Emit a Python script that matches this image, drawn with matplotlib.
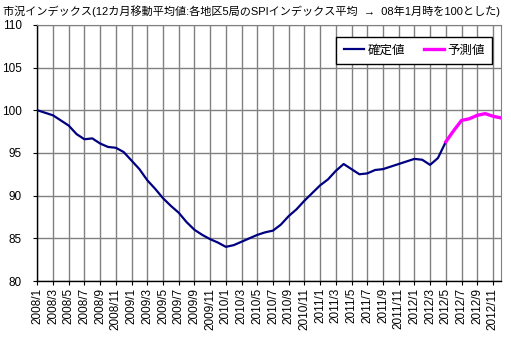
import numpy as np
import matplotlib.pyplot as plt

plt.rcParams['font.family'] = ['Liberation Sans', 'Noto Sans CJK JP', 'DejaVu Sans']

###########################################################

title = "市況インデックス(12カ月移動平均値:各地区5局のSPIインデックス平均  →  08年1月時を100とした)"
months = ["%d/%d" % (y, m) for y in range(2008, 2013) for m in range(1, 13)]

# 確定値 : 2008/1 - 2012/5
actual = [100.0, 99.7, 99.4, 98.8, 98.2, 97.2, 96.6, 96.7, 96.1, 95.7,
          95.6, 95.1, 94.1, 93.1, 91.8, 90.8, 89.7, 88.8, 88.0, 86.9,
          86.0, 85.4, 84.9, 84.5, 84.0, 84.2, 84.6, 85.0, 85.4, 85.7,
          85.9, 86.6, 87.6, 88.4, 89.4, 90.3, 91.2, 91.9, 92.9, 93.7,
          93.1, 92.5, 92.6, 93.0, 93.1, 93.4, 93.7, 94.0, 94.3, 94.2,
          93.6, 94.4, 96.3]
# 予測値 : 2012/5 - 2012/12
forecast = [96.3, 97.6, 98.8, 99.0, 99.4, 99.6, 99.3, 99.1]

###########################################################

x_act = np.arange(len(actual))
x_fc = np.arange(len(actual) - 1, len(actual) - 1 + len(forecast))

fig = plt.figure(figsize=(5.11, 3.40), dpi=100)
ax = fig.add_axes([0.073, 0.1735, 0.907, 0.7535])

ax.plot(x_act, actual, color='#000080', lw=1.6, label='確定値', zorder=3)
ax.plot(x_fc, forecast, color='#FF00FF', lw=2.4, label='予測値', zorder=3)

ax.set_xlim(0, len(months) - 1)
ax.set_ylim(80, 110)
ax.set_yticks(np.arange(80, 111, 5))
ax.set_xticks(np.arange(0, len(months), 2))
ax.set_xticklabels(months[::2], rotation=90, fontsize=8.5)
ax.tick_params(axis='y', labelsize=8.5, length=3, pad=8, direction='out')
ax.tick_params(axis='x', length=3, pad=2, direction='out')

ax.grid(True, color='#808080', lw=1.0)
ax.set_axisbelow(True)
for s in ['top', 'right']:
    ax.spines[s].set_color('#808080')
for s in ['left', 'bottom']:
    ax.spines[s].set_color('black')
    ax.spines[s].set_linewidth(1.0)

leg = ax.legend(loc='upper right', bbox_to_anchor=(0.982, 0.951), ncol=2,
                fontsize=9, frameon=True, fancybox=False, edgecolor='black',
                framealpha=1, borderaxespad=0, handlelength=1.6,
                handletextpad=0.3, columnspacing=1.5, borderpad=0.6)
leg.get_frame().set_linewidth(1.0)

fig.text(0.006, 0.985, title, fontsize=8, va='top', ha='left')

plt.savefig("out.png", dpi=100)
